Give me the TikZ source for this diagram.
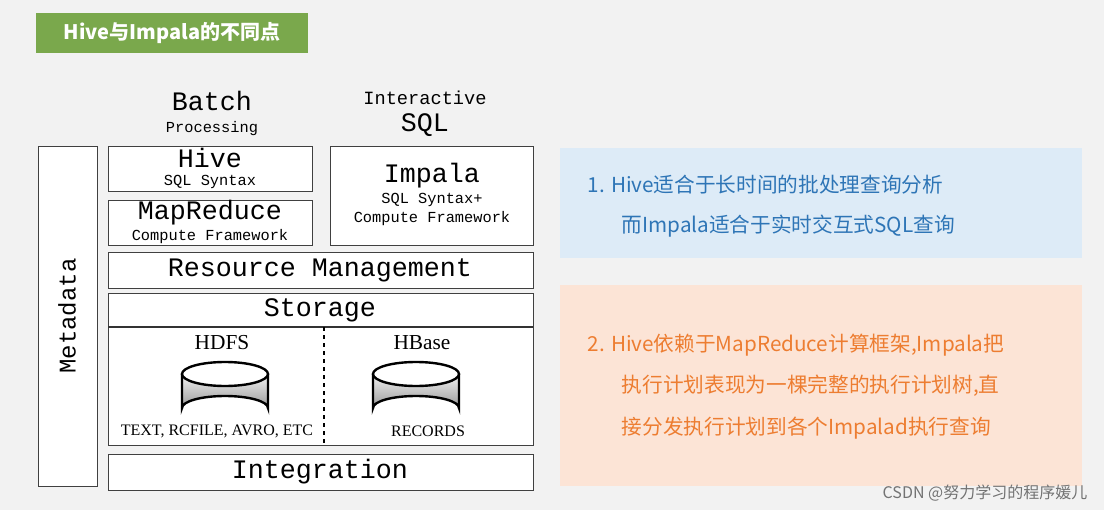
\documentclass[tikz,border=0pt]{standalone}
\usepackage{fontspec}
\setmainfont{Liberation Serif}
\setmonofont{Liberation Mono}
\newfontfamily\cjk{Noto Sans CJK SC}
\usetikzlibrary{shapes.geometric}
\definecolor{bg}{HTML}{F2F2F2}
\definecolor{tgreen}{HTML}{7AA84C}
\definecolor{bluebg}{HTML}{DDEBF7}
\definecolor{bluetx}{HTML}{2E75B6}
\definecolor{orgbg}{HTML}{FCE4D6}
\definecolor{orgtx}{HTML}{ED7D31}
\begin{document}
\begin{tikzpicture}[x=0.75pt,y=-0.75pt,
  box/.style={draw=black!75,fill=white,line width=0.6pt},
  big/.style={font=\ttfamily\fontsize{20}{22}\selectfont},
  small/.style={font=\ttfamily\fontsize{11.5}{13}\selectfont},
  cjkt/.style={font=\cjk\fontsize{15.5}{18}\selectfont,anchor=west}]
\fill[bg] (0,0) rectangle (1104,510);
\useasboundingbox (0,0) rectangle (1104,510);
% title
\fill[tgreen] (36,13) rectangle (308,53);
\node[font=\cjk\bfseries\fontsize{15}{18}\selectfont,text=white] (title) at (172,33) {Hive与Impala的不同点};
% boxes
\draw[box] (38,146) rectangle (97,486);
\node[rotate=90,font=\ttfamily\fontsize{18}{20}\selectfont] (meta) at (67,316) {Metadata};
\draw[box] (108,146) rectangle (312,191);
\node[big] (hive) at (210,158) {Hive};
\node[small] (hives) at (210,182) {SQL Syntax};
\draw[box] (108,200) rectangle (312,245);
\node[big] (mr) at (210,213) {MapReduce};
\node[small] (mrs) at (210,237) {Compute Framework};
\draw[box] (330,146) rectangle (533,245);
\node[big] (imp) at (432,176) {Impala};
\node[small] (imps) at (432,200) {SQL Syntax+};
\node[small] (impc) at (432,219) {Compute Framework};
\draw[box] (108,252) rectangle (533,288);
\node[big] (rm) at (320,270) {Resource Management};
\draw[box] (108,293) rectangle (533,445);
\draw[black!80,line width=0.9pt] (108,327) -- (533,327);
\node[big] (st) at (320,310) {Storage};
\coordinate (d1) at (324,327); \coordinate (d2) at (324,445);
\draw[dashed,line width=0.9pt] (d1) -- (d2);
\node[font=\fontsize{16}{17}\selectfont] (hdfs) at (222,343) {HDFS};
\node[font=\fontsize{16}{17}\selectfont] (hbase) at (422,343) {HBase};
\foreach \cx in {225,416}{
  \shade[top color=black!5,bottom color=black!40] (\cx-43,374) -- (\cx-43,408) arc[x radius=43,y radius=12,start angle=180,end angle=360] -- (\cx+43,374) -- cycle;
  \draw[line width=1.8pt] (\cx-43,374) -- (\cx-43,408) arc[x radius=43,y radius=12,start angle=180,end angle=360] -- (\cx+43,374);
  \draw[line width=1.8pt,fill=white] (\cx,374) ellipse[x radius=43,y radius=12];
}
\node[font=\fontsize{12}{13}\selectfont] (txt) at (217,431) {TEXT, RCFILE, AVRO, ETC};
\node[font=\fontsize{12}{13}\selectfont] (rec) at (428,431) {RECORDS};
\draw[box] (108,454) rectangle (533,490);
\node[big] (int) at (320,472) {Integration};
\node[big] (batch) at (212,101) {Batch};
\node[small] (proc) at (212,129) {Processing};
\node[font=\ttfamily\fontsize{14}{15}\selectfont] (inter) at (425,98) {Interactive};
\node[big] (sql) at (425,125) {SQL};
% right panels
\fill[bluebg] (560,148) rectangle (1082,258);
\node[cjkt,text=bluetx] (b1) at (583,185) {1. Hive适合于长时间的批处理查询分析};
\node[cjkt,text=bluetx] (b2) at (617,226) {而Impala适合于实时交互式SQL查询};
\fill[orgbg] (560,285) rectangle (1082,486);
\node[cjkt,text=orgtx] (o1) at (583,345) {2. Hive依赖于MapReduce计算框架,Impala把};
\node[cjkt,text=orgtx] (o2) at (617,386) {执行计划表现为一棵完整的执行计划树,直};
\node[cjkt,text=orgtx] (o3) at (617,428) {接分发执行计划到各个Impalad执行查询};
\node[font=\cjk\fontsize{12}{14}\selectfont,text=black!55,anchor=east] (wm) at (1092,493) {CSDN @努力学习的程序媛儿};
\end{tikzpicture}
\end{document}
